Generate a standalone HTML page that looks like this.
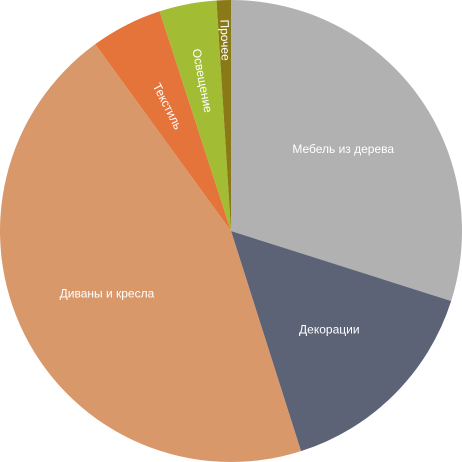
<!DOCTYPE html>
<html><head><meta charset="utf-8"><style>
html,body{margin:0;padding:0;background:#fff;width:462px;height:462px;overflow:hidden}
text{font-family:"Liberation Sans",sans-serif;font-size:12px;fill:#fff}
</style></head><body>
<svg id="chart" width="462" height="462" viewBox="0 0 462 462"></svg>
<script>
const categories=["Мебель из дерева","Декорации","Диваны и кресла","Текстиль","Освещение","Прочее"];
const values=[29.9,15.2,44.9,5.0,4.0,1.0];
const colors=["#b1b1b1","#5d6377","#d9986a","#e5743a","#a2bd34","#8a7a17"];
const labelRadius=[139,139,139,140,153,191];
const svg=document.getElementById('chart');
const NS='http://www.w3.org/2000/svg';
const cx=231,cy=231,R=231;
const total=values.reduce((a,b)=>a+b,0);
function pt(a,r){return [cx+r*Math.sin(a),cy-r*Math.cos(a)];}
let acc=0;
values.forEach((v,i)=>{
  const a0=acc/total*2*Math.PI; acc+=v; const a1=acc/total*2*Math.PI;
  const p0=pt(a0,R),p1=pt(a1,R);
  const large=(a1-a0)>Math.PI?1:0;
  const path=document.createElementNS(NS,'path');
  path.setAttribute('d',`M${cx},${cy}L${p0[0]},${p0[1]}A${R},${R} 0 ${large} 1 ${p1[0]},${p1[1]}Z`);
  path.setAttribute('fill',colors[i]);
  
  
  svg.appendChild(path);
  const am=(a0+a1)/2;
  const lp=pt(am,labelRadius[i]);
  const t=document.createElementNS(NS,'text');
  t.setAttribute('x',lp[0]);t.setAttribute('y',lp[1]);
  t.setAttribute('text-anchor','middle');t.setAttribute('dominant-baseline','central');
  if(v<8){
    const deg=am*180/Math.PI-270;
    t.setAttribute('transform',`rotate(${deg} ${lp[0]} ${lp[1]})`);
  }
  t.textContent=categories[i];
  
  
  svg.appendChild(t);
});
</script>
</body></html>
